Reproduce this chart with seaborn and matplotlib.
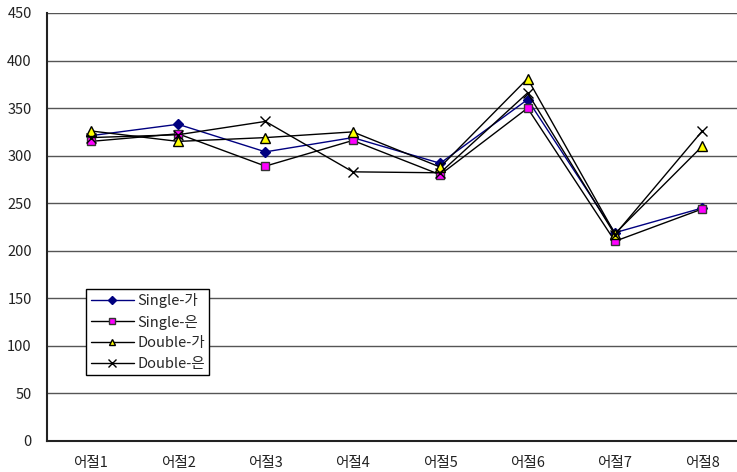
import numpy as np
import pandas as pd
import matplotlib
matplotlib.use("Agg")
import matplotlib.pyplot as plt
import seaborn as sns

categories = ["어절1", "어절2", "어절3", "어절4", "어절5", "어절6", "어절7", "어절8"]
single_ga = [321, 333, 304, 319, 292, 359, 219, 245]
single_eun = [315, 323, 289, 316, 280, 350, 210, 244]
double_ga = [326, 315, 319, 325, 288, 381, 218, 310]
double_eun = [319, 322, 336, 283, 282, 366, 217, 326]
yticks = [0, 50, 100, 150, 200, 250, 300, 350, 400, 450]

sns.set_style("white")
plt.rcParams['font.family'] = ['Noto Sans CJK KR', 'DejaVu Sans']

fig = plt.figure(figsize=(7.37, 4.72), dpi=100)
W, H = 737, 472
ax = fig.add_axes([47 / W, (H - 441) / H, 699 / W, 428 / H])

x = np.arange(len(categories))
series = [
    ("Single-가", single_ga, dict(color="#000080", marker="D", markersize=5,
                                  markerfacecolor="#000080", markeredgecolor="#000080")),
    ("Single-은", single_eun, dict(color="black", marker="s", markersize=6,
                                  markerfacecolor="#ff00ff", markeredgecolor="#333333")),
    ("Double-가", double_ga, dict(color="black", marker="^", markersize=6.5,
                                  markerfacecolor="#ffff00", markeredgecolor="black")),
    ("Double-은", double_eun, dict(color="black", marker="x", markersize=7,
                                  markerfacecolor="black", markeredgecolor="black")),
]
for name, vals, st in series:
    df = pd.DataFrame({"x": x, "y": vals})
    sns.lineplot(data=df, x="x", y="y", ax=ax, label=name, linewidth=1.0,
                 markeredgewidth=1.0, **st)

ax.set_xlim(-0.5, 7.5)
ax.set_ylim(0, 450)
ax.set_yticks(yticks)
ax.set_yticklabels([str(v) for v in yticks])
ax.yaxis.grid(True, color="#555555", linewidth=1.0)
ax.set_axisbelow(True)
ax.set_xticks(x)
ax.set_xticklabels(categories)
ax.set_xticks(np.arange(0.5, 7.5, 1.0), minor=True)
ax.tick_params(axis="x", which="major", length=0, pad=11, labelsize=10.5, colors="#222222")
ax.tick_params(axis="x", which="minor", length=4, direction="in", width=1, color="#333333")
ax.tick_params(axis="y", which="major", length=3, direction="out", width=1,
               labelsize=10.5, colors="#222222", pad=8)
ax.set_xlabel("")
ax.set_ylabel("")
for s in ["top", "right"]:
    ax.spines[s].set_visible(False)
for s in ["left", "bottom"]:
    ax.spines[s].set_color("#222222")
    ax.spines[s].set_linewidth(1.5)

leg = ax.legend(loc="lower left", bbox_to_anchor=(0.056, 0.154), frameon=True,
                fancybox=False, edgecolor="black", framealpha=1, fontsize=10.5,
                handlelength=3.0, handletextpad=0.2, borderpad=0.3, labelspacing=0.45,
                borderaxespad=0, markerscale=0.75)
leg.get_frame().set_linewidth(1.0)

fig.savefig("out.png", dpi=100)
